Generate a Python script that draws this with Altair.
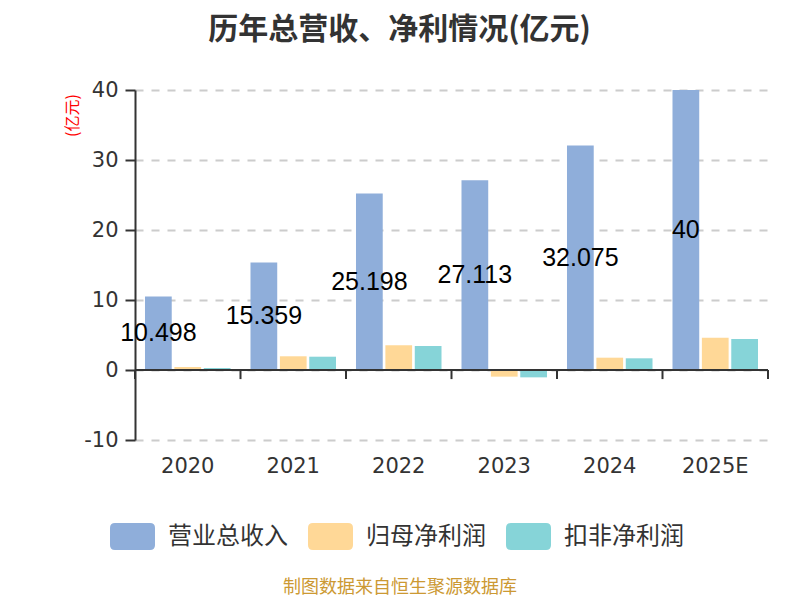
import altair as alt
import pandas as pd

years = ["2020", "2021", "2022", "2023", "2024", "2025E"]
revenue = [10.498, 15.359, 25.198, 27.113, 32.075, 40]
net_profit = [0.43, 1.96, 3.52, -0.95, 1.76, 4.62]
net_profit_deducted = [0.29, 1.90, 3.43, -1.05, 1.67, 4.43]
revenue_labels = ["10.498", "15.359", "25.198", "27.113", "32.075", "40"]
series = ["营业总收入", "归母净利润", "扣非净利润"]
colors = ["#8FAEDA", "#FFD897", "#86D4D8"]
y_ticks = [-10, 0, 10, 20, 30, 40]
title_text = "历年总营收、净利情况(亿元)"
y_title = "(亿元)"
source_text = "制图数据来自恒生聚源数据库"

rows = []
for i, yr in enumerate(years):
    for s, vals in zip(series, [revenue, net_profit, net_profit_deducted]):
        rows.append({"year": yr, "series": s, "value": vals[i],
                     "label": revenue_labels[i]})
df = pd.DataFrame(rows)

W, H = 633, 350
CJK = "Noto Sans CJK SC"

x_scale = alt.Scale(paddingInner=0, paddingOuter=0)
x_axis = alt.Axis(title=None, domain=False, ticks=False, labelAngle=0,
                  labelFont="DejaVu Sans", labelFontSize=21, labelColor="#333",
                  labelPadding=15, grid=False)
y_scale = alt.Scale(domain=[-10, 40], nice=False)
y_axis = alt.Axis(values=y_ticks, title=y_title, titleColor="red", titleFont=CJK,
                  titleFontSize=16, titleFontWeight="normal", titleX=-63, titleY=25,
                  titleAlign="center", titleBaseline="middle",
                  labelExpr="'' + datum.value",
                  labelFont="DejaVu Sans", labelFontSize=21, labelColor="#333",
                  labelPadding=7, tickSize=10, tickColor="#333", tickWidth=2,
                  domainColor="#333", domainWidth=2,
                  gridColor="#cccccc", gridDash=[8, 8], gridWidth=2)

sym = ("M-0.78,-0.6 L0.78,-0.6 Q1,-0.6 1,-0.38 L1,0.38 Q1,0.6 0.78,0.6 "
       "L-0.78,0.6 Q-1,0.6 -1,0.38 L-1,-0.38 Q-1,-0.6 -0.78,-0.6 Z")

legend = alt.Legend(title=None, orient="none", direction="horizontal",
                    legendX=-25, legendY=424, symbolType=sym, symbolSize=2025,
                    symbolStrokeWidth=0, symbolOpacity=1,
                    labelFont=CJK, labelFontSize=24, labelColor="#333",
                    columnPadding=20, labelOffset=13)

x_off = alt.XOffset("series:N", sort=series,
                    scale=alt.Scale(paddingInner=0.09, paddingOuter=0.34))

bars = alt.Chart(df).mark_bar().encode(
    x=alt.X("year:N", sort=years, scale=x_scale, axis=x_axis),
    xOffset=x_off,
    y=alt.Y("value:Q", scale=y_scale, axis=y_axis),
    color=alt.Color("series:N", sort=series,
                    scale=alt.Scale(domain=series, range=colors), legend=legend),
)

labels = alt.Chart(df).transform_filter(
    alt.datum.series == series[0]
).transform_calculate(mid="datum.value / 2").mark_text(
    font="Liberation Sans", fontSize=25, color="#000", baseline="middle"
).encode(
    x=alt.X("year:N", sort=years),
    xOffset=x_off,
    y=alt.Y("mid:Q"),
    text="label:N",
)

zero_line = alt.Chart(pd.DataFrame({"v": [0]})).mark_rule(
    color="#333", strokeWidth=2
).encode(y=alt.datum(0), x=alt.value(0), x2=alt.value(W))

tick_df = pd.DataFrame({"year": years})
ticks_left = alt.Chart(tick_df).mark_rule(color="#333", strokeWidth=2).encode(
    x=alt.X("year:N", sort=years, bandPosition=0),
    y=alt.datum(0), y2=alt.datum(-1.3))
ticks_right = alt.Chart(tick_df.tail(1)).mark_rule(color="#333", strokeWidth=2).encode(
    x=alt.X("year:N", sort=years, bandPosition=1),
    y=alt.datum(0), y2=alt.datum(-1.3))

source = alt.Chart(pd.DataFrame({"t": [source_text]})).mark_text(
    font=CJK, fontSize=18, color="#CC9933", baseline="middle", align="center"
).encode(text="t:N", x=alt.value(265), y=alt.value(498))

chart = alt.layer(bars, labels, zero_line, ticks_left, ticks_right, source).properties(
    width=W, height=H,
    title=alt.TitleParams(title_text, font=CJK, fontSize=30, fontWeight="bold",
                          color="#333", anchor="middle", dx=-52, offset=34),
    autosize=alt.AutoSizeParams(type="none"),
    padding={"left": 127, "top": 82, "right": 24, "bottom": 158},
).configure_view(stroke=None)

chart.save("out.html", embed_options={"renderer": "svg", "actions": False})
